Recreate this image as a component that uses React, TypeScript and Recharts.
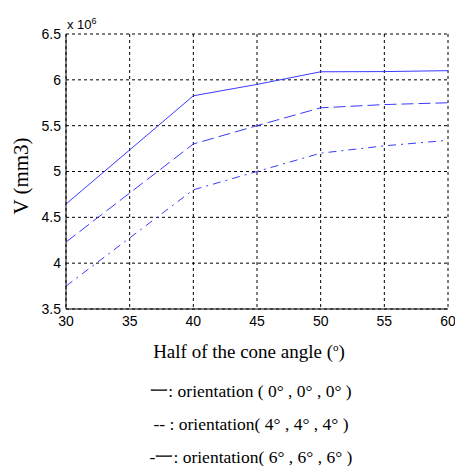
import React from "react";
import { LineChart, Line, XAxis, YAxis, CartesianGrid } from "recharts";

const angles = [30, 40, 45, 50, 55, 60];
const orient0 = [4.645, 5.826, 5.95, 6.088, 6.09, 6.1];
const orient4 = [4.23, 5.3, 5.5, 5.695, 5.73, 5.75];
const orient6 = [3.75, 4.8, 5.0, 5.2, 5.28, 5.34];

const xTicks = [30, 35, 40, 45, 50, 55, 60];
const yTicks = [3.5, 4, 4.5, 5, 5.5, 6, 6.5];

const legendLines = [
  "一: orientation ( 0° , 0° , 0° )",
  "-- : orientation( 4° , 4° , 4° )",
  "-一: orientation( 6° , 6° , 6° )",
];

const data = angles.map((a, i) => ({ a, o0: orient0[i], o4: orient4[i], o6: orient6[i] }));

const tickStyle = { fontSize: 14, fill: "#000", fontFamily: "Liberation Sans, Arial, sans-serif" };
const serif = "Liberation Serif, 'Times New Roman', serif";
const blue = "#3a3aff";

export default function App() {
  return (
    <div style={{ position: "absolute", left: 0, top: 0, width: 455, height: 466, background: "#fff", fontFamily: serif, overflow: "hidden" }}>
      <LineChart width={455} height={466} data={data} margin={{ top: 34, right: 7, bottom: 0, left: 0 }}>
        <CartesianGrid stroke="#000" strokeDasharray="3 3" />
        <XAxis
          dataKey="a"
          type="number"
          domain={[30, 60]}
          ticks={xTicks}
          tick={tickStyle}
          tickLine={false}
          axisLine={{ stroke: "#000" }}
          height={157}
          tickMargin={1}
        />
        <XAxis xAxisId="top" orientation="top" dataKey="a" type="number" domain={[30, 60]} tick={false} tickLine={false} axisLine={{ stroke: "#000" }} height={0} />
        <YAxis
          type="number"
          domain={[3.5, 6.5]}
          ticks={yTicks}
          tick={tickStyle}
          tickLine={false}
          axisLine={{ stroke: "#000" }}
          width={66}
          tickMargin={-1}
        />
        <YAxis yAxisId="right" orientation="right" type="number" domain={[3.5, 6.5]} tick={false} tickLine={false} axisLine={{ stroke: "#000" }} width={0} />
        <Line dataKey="o0" stroke={blue} strokeWidth={1} dot={false} isAnimationActive={false} />
        <Line dataKey="o4" stroke={blue} strokeWidth={1} strokeDasharray="12 5" dot={false} isAnimationActive={false} />
        <Line dataKey="o6" stroke={blue} strokeWidth={1} strokeDasharray="8 5 2 5" dot={false} isAnimationActive={false} />
      </LineChart>
      <div style={{ position: "absolute", left: 67, top: 14, fontSize: 13, lineHeight: "14px", fontFamily: "Liberation Sans, Arial, sans-serif" }}>
        x 10<sup style={{ fontSize: 9 }}>6</sup>
      </div>
      <div style={{ position: "absolute", left: 21, top: 176, transform: "translate(-50%, -50%) rotate(-90deg)", fontSize: 21, whiteSpace: "nowrap" }}>
        V (mm3)
      </div>
      <div style={{ position: "absolute", left: 249, top: 352, transform: "translate(-50%, -50%)", fontSize: 19, whiteSpace: "nowrap" }}>
        Half of the cone angle (<sup style={{ fontSize: 11 }}>o</sup>)
      </div>
      {legendLines.map((t, i) => (
        <div key={i} style={{ position: "absolute", left: 251, top: 391 + i * 33, transform: "translate(-50%, -50%)", fontSize: 17.5, lineHeight: "18px", whiteSpace: "nowrap" }}>
          {t}
        </div>
      ))}
    </div>
  );
}
